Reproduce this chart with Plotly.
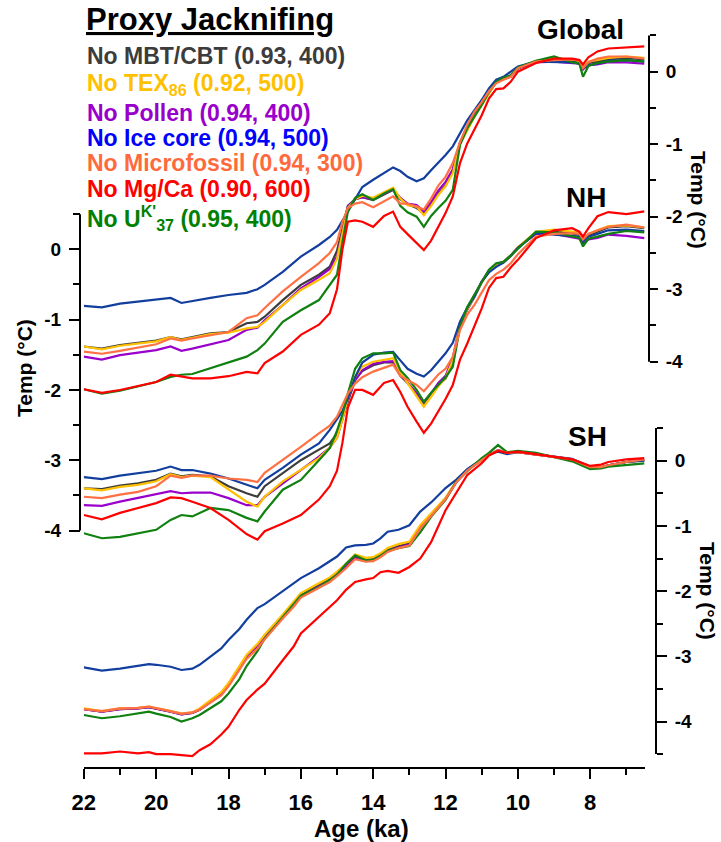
import plotly.graph_objects as go

W, H = 721, 842

# ---------------- data ----------------
AGE_GN = [22, 21.5, 21, 20.5, 20, 19.6, 19.3, 19, 18.5, 18,
          17.5, 17.2, 17, 16.5, 16, 15.5, 15.2, 15, 14.85, 14.7,
          14.5, 14.3, 14, 13.7, 13.45, 13.25, 13.05, 12.8, 12.6, 12.4,
          12.2, 12, 11.8, 11.6, 11.4, 11.2, 11, 10.8, 10.6, 10.4,
          10.2, 10, 9.5, 9, 8.5, 8.3, 8.2, 8.05, 7.8, 7.5, 7, 6.5]

GLOBAL_MBT = [-3.79, -3.82, -3.77, -3.74, -3.71, -3.66, -3.69, -3.66, -3.61, -3.59,
              -3.47, -3.45, -3.38, -3.15, -2.94, -2.80, -2.69, -2.47, -2.15, -1.85,
              -1.76, -1.73, -1.77, -1.69, -1.63, -1.76, -1.83, -1.88, -1.95, -1.84,
              -1.68, -1.57, -1.36, -0.99, -0.80, -0.60, -0.45, -0.30, -0.14, -0.10,
              -0.07, 0.04, 0.14, 0.16, 0.15, 0.14, 0.03, 0.12, 0.14, 0.17, 0.19, 0.17]
GLOBAL_TEX = [-3.79, -3.83, -3.78, -3.75, -3.72, -3.66, -3.70, -3.67, -3.62, -3.60,
              -3.54, -3.52, -3.45, -3.22, -3.01, -2.87, -2.78, -2.58, -2.25, -1.88,
              -1.76, -1.71, -1.74, -1.66, -1.60, -1.75, -1.84, -1.86, -1.98, -1.85,
              -1.70, -1.58, -1.40, -1.00, -0.80, -0.62, -0.46, -0.30, -0.14, -0.10,
              -0.06, 0.05, 0.15, 0.18, 0.17, 0.15, 0.06, 0.14, 0.16, 0.19, 0.21, 0.19]
GLOBAL_POLLEN = [-3.93, -3.97, -3.91, -3.87, -3.84, -3.79, -3.85, -3.82, -3.76, -3.70,
                 -3.56, -3.53, -3.43, -3.22, -2.99, -2.83, -2.72, -2.55, -2.22, -1.86,
                 -1.76, -1.73, -1.76, -1.69, -1.63, -1.74, -1.82, -1.84, -1.93, -1.80,
                 -1.64, -1.52, -1.35, -0.97, -0.77, -0.58, -0.43, -0.27, -0.13, -0.09,
                 -0.06, 0.05, 0.13, 0.14, 0.12, 0.11, 0.04, 0.09, 0.10, 0.13, 0.13, 0.11]
GLOBAL_ICE = [-3.23, -3.25, -3.20, -3.17, -3.14, -3.12, -3.19, -3.16, -3.12, -3.08,
              -3.05, -3.00, -2.94, -2.76, -2.55, -2.39, -2.28, -2.18, -2.05, -1.93,
              -1.75, -1.59, -1.49, -1.40, -1.32, -1.37, -1.45, -1.51, -1.47, -1.36,
              -1.26, -1.15, -1.03, -0.85, -0.67, -0.53, -0.39, -0.23, -0.11, -0.07,
              0.00, 0.07, 0.14, 0.14, 0.13, 0.11, 0.05, 0.09, 0.11, 0.15, 0.16, 0.14]
GLOBAL_MICRO = [-3.86, -3.89, -3.85, -3.81, -3.76, -3.68, -3.71, -3.68, -3.63, -3.59,
                -3.40, -3.36, -3.26, -3.03, -2.83, -2.64, -2.50, -2.35, -2.07, -1.88,
                -1.82, -1.80, -1.87, -1.79, -1.72, -1.82, -1.82, -1.86, -1.90, -1.75,
                -1.57, -1.45, -1.26, -0.97, -0.73, -0.55, -0.42, -0.27, -0.16, -0.11,
                -0.07, 0.05, 0.14, 0.16, 0.17, 0.16, 0.05, 0.13, 0.18, 0.21, 0.21, 0.18]
GLOBAL_MGCA = [-4.38, -4.43, -4.39, -4.34, -4.28, -4.18, -4.21, -4.23, -4.23, -4.20,
               -4.14, -4.16, -4.02, -3.86, -3.63, -3.49, -3.33, -3.00, -2.45, -2.07,
               -2.05, -2.07, -2.14, -1.99, -1.93, -2.14, -2.24, -2.37, -2.46, -2.33,
               -2.14, -1.95, -1.72, -1.26, -0.99, -0.80, -0.60, -0.37, -0.24, -0.23,
               -0.14, 0.00, 0.12, 0.18, 0.18, 0.16, 0.10, 0.20, 0.28, 0.32, 0.34, 0.35]
GLOBAL_UK = [-4.38, -4.44, -4.40, -4.34, -4.28, -4.21, -4.18, -4.17, -4.09, -4.02,
             -3.93, -3.84, -3.75, -3.45, -3.29, -3.15, -2.95, -2.80, -2.35, -1.93,
             -1.74, -1.69, -1.77, -1.68, -1.62, -1.85, -1.94, -2.00, -2.14, -1.99,
             -1.88, -1.78, -1.63, -1.01, -0.78, -0.62, -0.46, -0.28, -0.14, -0.08,
             -0.05, 0.06, 0.15, 0.21, 0.13, 0.11, -0.07, 0.08, 0.12, 0.14, 0.16, 0.14]

NH_MBT = [-3.40, -3.41, -3.36, -3.33, -3.28, -3.19, -3.23, -3.21, -3.23, -3.37,
          -3.47, -3.52, -3.37, -3.18, -3.00, -2.85, -2.76, -2.62, -2.40, -2.15,
          -1.86, -1.73, -1.65, -1.61, -1.61, -1.80, -1.90, -2.05, -2.19, -2.06,
          -1.93, -1.84, -1.62, -1.08, -0.86, -0.68, -0.47, -0.31, -0.23, -0.19,
          -0.10, 0.02, 0.23, 0.26, 0.22, 0.21, 0.12, 0.20, 0.25, 0.31, 0.33, 0.30]
NH_TEX = [-3.40, -3.43, -3.38, -3.35, -3.30, -3.20, -3.24, -3.22, -3.24, -3.42,
          -3.59, -3.66, -3.52, -3.30, -3.14, -2.97, -2.82, -2.68, -2.42, -2.12,
          -1.82, -1.67, -1.60, -1.57, -1.55, -1.75, -1.90, -2.08, -2.24, -2.10,
          -1.95, -1.83, -1.58, -1.06, -0.85, -0.67, -0.47, -0.31, -0.22, -0.18,
          -0.09, 0.03, 0.25, 0.28, 0.25, 0.24, 0.15, 0.22, 0.27, 0.33, 0.34, 0.31]
NH_POLLEN = [-3.64, -3.65, -3.59, -3.54, -3.49, -3.44, -3.47, -3.46, -3.46, -3.54,
             -3.64, -3.64, -3.52, -3.33, -3.14, -2.95, -2.82, -2.68, -2.42, -2.14,
             -1.86, -1.72, -1.63, -1.60, -1.59, -1.77, -1.90, -2.05, -2.17, -2.05,
             -1.90, -1.80, -1.55, -1.05, -0.85, -0.67, -0.46, -0.30, -0.22, -0.18,
             -0.09, 0.03, 0.22, 0.22, 0.17, 0.15, 0.08, 0.14, 0.16, 0.21, 0.19, 0.16]
NH_ICE = [-3.24, -3.27, -3.22, -3.19, -3.15, -3.09, -3.14, -3.14, -3.19, -3.26,
          -3.35, -3.40, -3.28, -3.11, -2.92, -2.76, -2.57, -2.42, -2.30, -2.12,
          -1.82, -1.61, -1.50, -1.47, -1.46, -1.58, -1.70, -1.77, -1.81, -1.72,
          -1.60, -1.48, -1.33, -1.03, -0.83, -0.67, -0.46, -0.33, -0.25, -0.19,
          -0.09, 0.02, 0.23, 0.21, 0.19, 0.18, 0.11, 0.18, 0.22, 0.27, 0.28, 0.26]
NH_MICRO = [-3.52, -3.54, -3.49, -3.45, -3.37, -3.22, -3.25, -3.22, -3.22, -3.26,
            -3.28, -3.31, -3.18, -3.00, -2.81, -2.62, -2.51, -2.38, -2.22, -2.05,
            -1.91, -1.82, -1.74, -1.68, -1.64, -1.80, -1.86, -1.93, -2.02, -1.90,
            -1.78, -1.70, -1.53, -1.15, -0.93, -0.79, -0.62, -0.44, -0.35, -0.29,
            -0.20, -0.07, 0.18, 0.22, 0.23, 0.22, 0.14, 0.22, 0.27, 0.32, 0.35, 0.31]
NH_MGCA = [-3.78, -3.84, -3.75, -3.68, -3.61, -3.53, -3.54, -3.59, -3.68, -3.85,
           -4.05, -4.13, -4.01, -3.90, -3.78, -3.56, -3.37, -3.15, -2.75, -2.25,
           -2.00, -2.00, -2.07, -1.90, -1.86, -2.03, -2.24, -2.45, -2.61, -2.48,
           -2.31, -2.13, -1.93, -1.57, -1.34, -1.10, -0.84, -0.55, -0.41, -0.39,
           -0.26, -0.15, 0.16, 0.27, 0.30, 0.25, 0.18, 0.30, 0.47, 0.53, 0.50, 0.54]
NH_UK = [-4.04, -4.11, -4.09, -4.04, -3.99, -3.85, -3.78, -3.80, -3.68, -3.71,
         -3.82, -3.87, -3.73, -3.42, -3.28, -3.00, -2.83, -2.58, -2.35, -2.05,
         -1.70, -1.55, -1.48, -1.48, -1.47, -1.72, -1.83, -2.00, -2.17, -2.04,
         -1.93, -1.82, -1.67, -1.10, -0.82, -0.65, -0.46, -0.29, -0.20, -0.18,
         -0.09, 0.01, 0.25, 0.24, 0.18, 0.16, 0.04, 0.15, 0.18, 0.22, 0.26, 0.24]

AGE_SH = [22, 21.5, 21, 20.5, 20.2, 20, 19.6, 19.3, 19, 18.8,
          18.5, 18.2, 18, 17.7, 17.5, 17.2, 17, 16.5, 16.2, 16,
          15.5, 15.2, 15, 14.75, 14.5, 14.2, 14, 13.8, 13.6, 13.3,
          13, 12.7, 12.4, 12, 11.7, 11.4, 11, 10.8, 10.55, 10.3,
          10, 9.5, 9, 8.5, 8, 7.7, 7.5, 7, 6.5]

SH_MBT = [-3.81, -3.85, -3.81, -3.80, -3.78, -3.80, -3.85, -3.89, -3.87, -3.82,
          -3.70, -3.58, -3.44, -3.19, -3.01, -2.84, -2.70, -2.39, -2.20, -2.06,
          -1.91, -1.82, -1.73, -1.61, -1.47, -1.52, -1.51, -1.45, -1.37, -1.31,
          -1.27, -1.01, -0.83, -0.58, -0.32, -0.14, 0.01, 0.09, 0.16, 0.12,
          0.13, 0.10, 0.06, 0.02, -0.10, -0.10, -0.07, -0.02, 0.01]
SH_TEX = [-3.80, -3.84, -3.80, -3.79, -3.77, -3.79, -3.84, -3.88, -3.86, -3.80,
          -3.68, -3.55, -3.41, -3.16, -2.98, -2.81, -2.67, -2.36, -2.17, -2.03,
          -1.88, -1.79, -1.70, -1.58, -1.44, -1.49, -1.48, -1.42, -1.34, -1.28,
          -1.24, -0.99, -0.81, -0.57, -0.31, -0.14, 0.01, 0.09, 0.15, 0.12,
          0.13, 0.10, 0.06, 0.02, -0.10, -0.10, -0.07, -0.02, 0.01]
SH_POLLEN = [-3.81, -3.85, -3.81, -3.80, -3.78, -3.80, -3.85, -3.89, -3.87, -3.82,
             -3.70, -3.58, -3.44, -3.20, -3.02, -2.85, -2.71, -2.40, -2.22, -2.08,
             -1.93, -1.84, -1.75, -1.63, -1.50, -1.54, -1.53, -1.47, -1.39, -1.33,
             -1.29, -1.03, -0.84, -0.59, -0.33, -0.15, 0.01, 0.09, 0.16, 0.12,
             0.13, 0.10, 0.06, 0.02, -0.10, -0.10, -0.07, -0.02, 0.01]
SH_ICE = [-3.17, -3.22, -3.19, -3.15, -3.12, -3.13, -3.16, -3.21, -3.19, -3.13,
          -3.00, -2.88, -2.75, -2.58, -2.44, -2.26, -2.20, -2.00, -1.87, -1.80,
          -1.65, -1.55, -1.47, -1.33, -1.30, -1.29, -1.27, -1.19, -1.09, -1.06,
          -0.99, -0.78, -0.64, -0.42, -0.29, -0.13, 0.02, 0.10, 0.14, 0.10,
          0.13, 0.10, 0.07, 0.03, -0.09, -0.11, -0.07, -0.02, 0.00]
SH_MICRO = [-3.81, -3.84, -3.80, -3.79, -3.77, -3.79, -3.84, -3.88, -3.86, -3.82,
            -3.71, -3.60, -3.46, -3.22, -3.04, -2.88, -2.74, -2.42, -2.24, -2.10,
            -1.95, -1.86, -1.77, -1.65, -1.51, -1.55, -1.54, -1.48, -1.40, -1.34,
            -1.30, -1.04, -0.85, -0.59, -0.33, -0.15, 0.01, 0.09, 0.16, 0.12,
            0.13, 0.10, 0.06, 0.02, -0.10, -0.10, -0.07, -0.02, 0.02]
SH_MGCA = [-4.49, -4.49, -4.46, -4.49, -4.47, -4.50, -4.50, -4.52, -4.53, -4.44,
           -4.35, -4.20, -4.08, -3.82, -3.67, -3.51, -3.42, -3.06, -2.85, -2.65,
           -2.39, -2.24, -2.14, -1.98, -1.86, -1.82, -1.80, -1.71, -1.69, -1.72,
           -1.63, -1.50, -1.25, -0.76, -0.48, -0.22, -0.04, 0.08, 0.15, 0.12,
           0.14, 0.10, 0.06, 0.02, -0.08, -0.06, -0.02, 0.02, 0.04]
SH_UK = [-3.90, -3.95, -3.92, -3.88, -3.85, -3.88, -3.93, -4.00, -3.95, -3.90,
         -3.80, -3.69, -3.57, -3.35, -3.15, -2.92, -2.73, -2.40, -2.21, -2.07,
         -1.94, -1.83, -1.75, -1.58, -1.45, -1.53, -1.52, -1.46, -1.38, -1.34,
         -1.31, -1.10, -0.86, -0.60, -0.32, -0.16, 0.04, 0.12, 0.24, 0.13,
         0.15, 0.12, 0.06, -0.01, -0.13, -0.12, -0.09, -0.06, -0.04]

SERIES_KEYS = ["MBT", "TEX", "POLLEN", "ICE", "MICRO", "MGCA", "UK"]
LEGEND_LABELS = [
    "No MBT/CBT (0.93, 400)",
    "No TEX<sub>86</sub> (0.92, 500)",
    "No Pollen (0.94, 400)",
    "No Ice core (0.94, 500)",
    "No Microfossil (0.94, 300)",
    "No Mg/Ca (0.90, 600)",
    "No U<sup>K'</sup><sub>37</sub> (0.95, 400)",
]
X_TICKS = [22, 20, 18, 16, 14, 12, 10, 8]
X_MINOR = [21, 19, 17, 15, 13, 11, 9, 7]
Y_TICKS = [0, -1, -2, -3, -4]
Y_TICKTEXT = ["0", "-1", "-2", "-3", "-4"]

# ---------------- styling ----------------
LINE_COLORS = {"MBT": "#3c3c3c", "TEX": "#ffc000", "POLLEN": "#9900cc", "ICE": "#123f9e",
               "MICRO": "#ff7043", "MGCA": "#ff0000", "UK": "#108010"}
TEXT_COLORS = {"MBT": "#3c3c3c", "TEX": "#ffc000", "POLLEN": "#9900cc", "ICE": "#0000ff",
               "MICRO": "#ff6a3d", "MGCA": "#ff0000", "UK": "#008000"}
FONT = "Liberation Sans, Arial, sans-serif"

data = {
    "y": dict(zip(SERIES_KEYS, [GLOBAL_MBT, GLOBAL_TEX, GLOBAL_POLLEN, GLOBAL_ICE, GLOBAL_MICRO, GLOBAL_MGCA, GLOBAL_UK])),
    "y2": dict(zip(SERIES_KEYS, [NH_MBT, NH_TEX, NH_POLLEN, NH_ICE, NH_MICRO, NH_MGCA, NH_UK])),
    "y3": dict(zip(SERIES_KEYS, [SH_MBT, SH_TEX, SH_POLLEN, SH_ICE, SH_MICRO, SH_MGCA, SH_UK])),
}
ages = {"y": AGE_GN, "y2": AGE_GN, "y3": AGE_SH}
draw_order = ["MBT", "POLLEN", "TEX", "ICE", "UK", "MICRO", "MGCA"]

fig = go.Figure()
for yax in ["y", "y2", "y3"]:
    for k in draw_order:
        fig.add_trace(go.Scatter(x=ages[yax], y=data[yax][k], mode="lines",
                                 line=dict(color=LINE_COLORS[k], width=2.2),
                                 yaxis=yax, showlegend=False, hoverinfo="skip"))

def px(x):
    return x / W

def py(y):
    return 1 - y / H

# panel pixel geometry: zero row, px per unit, axis x, side, tick lengths, minor ticks, line extent
panels = {
    "y": dict(zero=71.7, scale=72.5, ax=649, side="right", tl=8, mtl=6,
              minor=[0.5, -0.5, -1.5, -2.5, -3.5], lo=-4, hi=0.5),
    "y2": dict(zero=249.3, scale=70.3, ax=80, side="left", tl=11, mtl=7,
               minor=[0.5, -0.5, -1.5, -2.5, -3.5], lo=-4, hi=0.5),
    "y3": dict(zero=460.7, scale=65.2, ax=656, side="right", tl=10, mtl=6,
               minor=[0.5, -0.5, -1.5, -2.5, -3.5, -4.5], lo=-4.5, hi=0.5),
}

layout_axes = {}
shapes = []
for yax, p in panels.items():
    name = "yaxis" if yax == "y" else "yaxis" + yax[1:]
    rng = [-(H - p["zero"]) / p["scale"], p["zero"] / p["scale"]]
    ax = dict(domain=[0, 1], range=rng, anchor="free", position=px(p["ax"]), side=p["side"],
              showgrid=False, zeroline=False, showline=False,
              ticks="outside", ticklen=p["tl"], tickwidth=2, tickcolor="black",
              tickmode="array", tickvals=Y_TICKS, ticktext=Y_TICKTEXT,
              tickfont=dict(family=FONT, size=19, color="black", weight="bold"),
              ticklabelstandoff=4,
              minor=dict(tickmode="array", tickvals=p["minor"], ticks="outside",
                         ticklen=p["mtl"], tickwidth=2, tickcolor="black", showgrid=False),
              automargin=False, fixedrange=True)
    if yax != "y":
        ax["overlaying"] = "y"
    layout_axes[name] = ax
    shapes.append(dict(type="line", xref="paper", yref=yax, x0=px(p["ax"]), x1=px(p["ax"]),
                       y0=p["lo"], y1=p["hi"], line=dict(color="black", width=2)))

annotations = []
# legend block
annotations.append(dict(x=px(84), y=py(20), xref="paper", yref="paper", xanchor="left", yanchor="middle",
                        text="<b><u>Proxy Jacknifing</u></b>", showarrow=False,
                        font=dict(family=FONT, size=31, color="black")))
legend_rows = [56, 84, 113, 138, 163, 189, 218]
for k, lab, yy in zip(SERIES_KEYS, LEGEND_LABELS, legend_rows):
    annotations.append(dict(x=px(85), y=py(yy), xref="paper", yref="paper", xanchor="left",
                            yanchor="middle", text="<b>" + lab + "</b>", showarrow=False,
                            font=dict(family=FONT, size=23, color=TEXT_COLORS[k])))
# panel labels
for txt, (cx, cy) in [("Global", (580, 29)), ("NH", (586, 197)), ("SH", (587, 437))]:
    annotations.append(dict(x=px(cx), y=py(cy), xref="paper", yref="paper", xanchor="center",
                            yanchor="middle", text="<b>" + txt + "</b>", showarrow=False,
                            font=dict(family=FONT, size=28, color="black")))
# axis titles
for (cx, cy, ang) in [(24, 368, -90), (699, 200, 90), (708, 591, 90)]:
    annotations.append(dict(x=px(cx), y=py(cy), xref="paper", yref="paper", xanchor="center",
                            yanchor="middle", text="<b>Temp (°C)</b>", textangle=ang, showarrow=False,
                            font=dict(family=FONT, size=21, color="black")))
annotations.append(dict(x=px(361), y=py(828), xref="paper", yref="paper", xanchor="center",
                        yanchor="middle", text="<b>Age (ka)</b>", showarrow=False,
                        font=dict(family=FONT, size=24, color="black")))

fig.update_layout(
    width=W, height=H, margin=dict(l=0, r=0, t=0, b=0, pad=0),
    paper_bgcolor="white", plot_bgcolor="rgba(0,0,0,0)", template="none",
    showlegend=False,
    xaxis=dict(domain=[px(83.8), px(644.5)], range=[22, 6.5], anchor="free", position=py(768),
               showgrid=False, zeroline=False, showline=True, linewidth=2, linecolor="black",
               ticks="outside", ticklen=10, tickwidth=2, tickcolor="black",
               tickmode="array", tickvals=X_TICKS,
               tickfont=dict(family=FONT, size=22, color="black", weight="bold"),
               ticklabelstandoff=5,
               minor=dict(tickmode="array", tickvals=X_MINOR, ticks="outside", ticklen=6,
                          tickwidth=2, tickcolor="black", showgrid=False),
               automargin=False, fixedrange=True),
    shapes=shapes,
    annotations=annotations,
    **layout_axes,
)

fig.write_html("out.html")
